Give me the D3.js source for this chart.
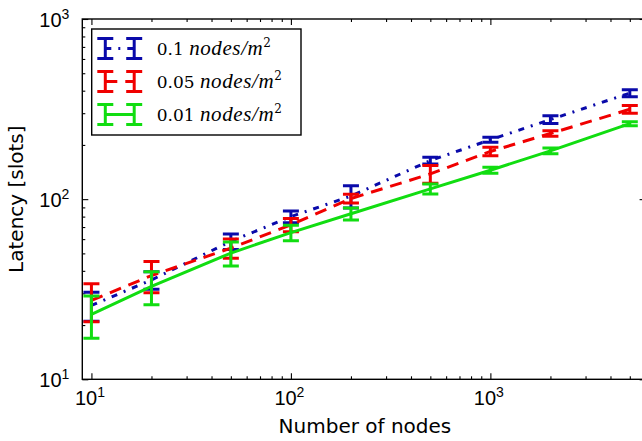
<!DOCTYPE html>
<html>
<head>
<meta charset="utf-8">
<script src="https://cdn.jsdelivr.net/npm/d3@7"></script>
<style>
  body { margin: 0; background: #fff; }
  svg { display: block; }
</style>
</head>
<body>
<div id="grafica"></div>
<script>
// datos
const nodos = [10, 20, 50, 100, 200, 500, 1000, 2000, 5000];

const densidades = ["0.1", "0.05", "0.01"];

const media01 = [25.7, 35.6, 58.3, 80, 104, 163.7, 213.6, 276.6, 387.8];
const error01 = [4.7, 4, 5.75, 6, 14.6, 7, 6.8, 13.9, 17.4];

const media005 = [27.4, 37.65, 53.5, 72, 100.8, 138, 184, 231.5, 315.4];
const error005 = [6.5, 7.45, 6.5, 6, 5.6, 15.5, 10, 8, 15.8];

const media001 = [22.95, 32.75, 50.2, 65.2, 83, 114, 144.7, 185.5, 262.5];
const error001 = [6.05, 6.85, 7.6, 6.5, 6.3, 7.3, 5.5, 6.7, 6.8];

const ticksMayoresX = [10, 100, 1000];
const ticksMenoresX = [20, 30, 40, 50, 60, 70, 80, 90, 200, 300, 400, 500, 600, 700, 800, 900, 2000, 3000, 4000, 5000];
const ticksMayoresY = [10, 100, 1000];
const ticksMenoresY = [20, 30, 40, 50, 60, 70, 80, 90, 200, 300, 400, 500, 600, 700, 800, 900];

const series = [
    { nombre: densidades[0], media: media01, error: error01, color: "#0a0aaa", trazo: "6,7,2,7" },
    { nombre: densidades[1], media: media005, error: error005, color: "#f00000", trazo: "12,8" },
    { nombre: densidades[2], media: media001, error: error001, color: "#11dd11", trazo: null }
];

const W = 642, H = 441;
const izq = 82.3, der = 645.6, arriba = 19, abajo = 379.3;

const svg = d3.select("#grafica").append("svg")
    .attr("width", W).attr("height", H)
    .style("font-family", "'DejaVu Sans', sans-serif");

const x = d3.scaleLog().domain([9, 6000]).range([izq, der]);
const y = d3.scaleLog().domain([10, 1000]).range([abajo, arriba]);

svg.append("clipPath").attr("id", "recorte")
    .append("rect")
    .attr("x", izq).attr("y", arriba)
    .attr("width", der - izq).attr("height", abajo - arriba);

// etiquetas tipo 10^n
function etiquetaPotencia(sel) {
    sel.each(function (d) {
        const t = d3.select(this);
        t.text(null);
        t.append("tspan").text("10");
        t.append("tspan").attr("dy", -8).attr("font-size", 14).text(Math.round(Math.log10(d)));
    });
}

function limpiar(g) {
    g.select(".domain").remove();
    g.selectAll("line").attr("stroke", "#000").attr("stroke-width", 1.1);
}

// eje inferior
svg.append("g")
    .attr("transform", `translate(0,${abajo})`)
    .call(d3.axisBottom(x).tickValues(ticksMayoresX).tickSize(-6).tickSizeOuter(0))
    .call(limpiar)
    .call(g => g.selectAll("text")
        .attr("y", 25.7).attr("dy", null).attr("x", -2)
        .attr("font-size", 20).attr("fill", "#000")
        .call(etiquetaPotencia));
svg.append("g")
    .attr("transform", `translate(0,${abajo})`)
    .call(d3.axisBottom(x).tickValues(ticksMenoresX).tickSize(-3).tickSizeOuter(0).tickFormat(""))
    .call(limpiar);

// eje superior
svg.append("g")
    .attr("transform", `translate(0,${arriba})`)
    .call(d3.axisTop(x).tickValues(ticksMayoresX).tickSize(-6).tickSizeOuter(0).tickFormat(""))
    .call(limpiar);
svg.append("g")
    .attr("transform", `translate(0,${arriba})`)
    .call(d3.axisTop(x).tickValues(ticksMenoresX).tickSize(-3).tickSizeOuter(0).tickFormat(""))
    .call(limpiar);

// eje izquierdo
svg.append("g")
    .attr("transform", `translate(${izq},0)`)
    .call(d3.axisLeft(y).tickValues(ticksMayoresY).tickSize(-6).tickSizeOuter(0).tickPadding(13))
    .call(limpiar)
    .call(g => g.selectAll("text")
        .attr("dy", "0.36em")
        .attr("font-size", 20).attr("fill", "#000")
        .call(etiquetaPotencia));
svg.append("g")
    .attr("transform", `translate(${izq},0)`)
    .call(d3.axisLeft(y).tickValues(ticksMenoresY).tickSize(-3).tickSizeOuter(0).tickFormat(""))
    .call(limpiar);

// eje derecho
svg.append("g")
    .attr("transform", `translate(${der},0)`)
    .call(d3.axisRight(y).tickValues(ticksMayoresY).tickSize(-6).tickSizeOuter(0).tickFormat(""))
    .call(limpiar);
svg.append("g")
    .attr("transform", `translate(${der},0)`)
    .call(d3.axisRight(y).tickValues(ticksMenoresY).tickSize(-3).tickSizeOuter(0).tickFormat(""))
    .call(limpiar);

// series con barras de error
const zona = svg.append("g").attr("clip-path", "url(#recorte)");
const linea = d3.line().x(d => x(d.n)).y(d => y(d.m));
const anchoTapa = 8;

series.forEach(s => {
    const puntos = nodos.map((n, i) => ({ n: n, m: s.media[i], e: s.error[i] }));
    const g = zona.append("g");

    g.append("path")
        .datum(puntos)
        .attr("d", linea)
        .attr("fill", "none")
        .attr("stroke", s.color)
        .attr("stroke-width", 3)
        .attr("stroke-dasharray", s.trazo);

    g.selectAll(".barra").data(puntos).enter().append("line")
        .attr("x1", d => x(d.n)).attr("x2", d => x(d.n))
        .attr("y1", d => y(d.m + d.e)).attr("y2", d => y(d.m - d.e))
        .attr("stroke", s.color).attr("stroke-width", 3);

    ["arriba", "abajo"].forEach(lado => {
        g.selectAll(".tapa-" + lado).data(puntos).enter().append("line")
            .attr("x1", d => x(d.n) - anchoTapa).attr("x2", d => x(d.n) + anchoTapa)
            .attr("y1", d => y(lado === "arriba" ? d.m + d.e : d.m - d.e))
            .attr("y2", d => y(lado === "arriba" ? d.m + d.e : d.m - d.e))
            .attr("stroke", s.color).attr("stroke-width", 3);
    });
});

// marco
svg.append("rect")
    .attr("x", izq).attr("y", arriba)
    .attr("width", der - izq).attr("height", abajo - arriba)
    .attr("fill", "none").attr("stroke", "#000").attr("stroke-width", 1.4);

// leyenda
const leyenda = svg.append("g");
leyenda.append("rect")
    .attr("x", 91.7).attr("y", 29).attr("width", 209.3).attr("height", 106)
    .attr("fill", "#fff").attr("stroke", "#000").attr("stroke-width", 1.4);

const filasY = [48.5, 81.5, 114.5];
const glifoX = [105.3, 134.2];
series.forEach((s, i) => {
    const yy = filasY[i];
    const f = leyenda.append("g");
    f.append("line")
        .attr("x1", glifoX[0]).attr("x2", glifoX[1]).attr("y1", yy).attr("y2", yy)
        .attr("stroke", s.color).attr("stroke-width", 3)
        .attr("stroke-dasharray", s.trazo);
    glifoX.forEach(gx => {
        f.append("line").attr("x1", gx).attr("x2", gx).attr("y1", yy - 10).attr("y2", yy + 10)
            .attr("stroke", s.color).attr("stroke-width", 3);
        [yy - 10, yy + 10].forEach(cy => {
            f.append("line").attr("x1", gx - anchoTapa).attr("x2", gx + anchoTapa)
                .attr("y1", cy).attr("y2", cy)
                .attr("stroke", s.color).attr("stroke-width", 3);
        });
    });
    const t = f.append("text")
        .attr("x", 156.7).attr("y", yy + 6)
        .attr("font-family", "'DejaVu Serif', serif")
        .attr("font-size", 17).attr("fill", "#000");
    t.append("tspan").text(s.nombre + " ");
    t.append("tspan")
        .attr("font-family", "'Liberation Serif', serif")
        .attr("font-style", "italic").attr("font-size", 21)
        .attr("letter-spacing", 0.6)
        .text("nodes/m");
    t.append("tspan").attr("dy", -8).attr("font-size", 12).text("2");
});

// titulos de ejes
svg.append("text")
    .attr("x", (izq + 645.6) / 2 + 1).attr("y", 433)
    .attr("text-anchor", "middle").attr("font-size", 20).attr("fill", "#000")
    .text("Number of nodes");

svg.append("text")
    .attr("transform", `translate(22.5,${(arriba + abajo) / 2}) rotate(-90)`)
    .attr("text-anchor", "middle").attr("font-size", 20).attr("fill", "#000")
    .text("Latency [slots]");
</script>
</body>
</html>
